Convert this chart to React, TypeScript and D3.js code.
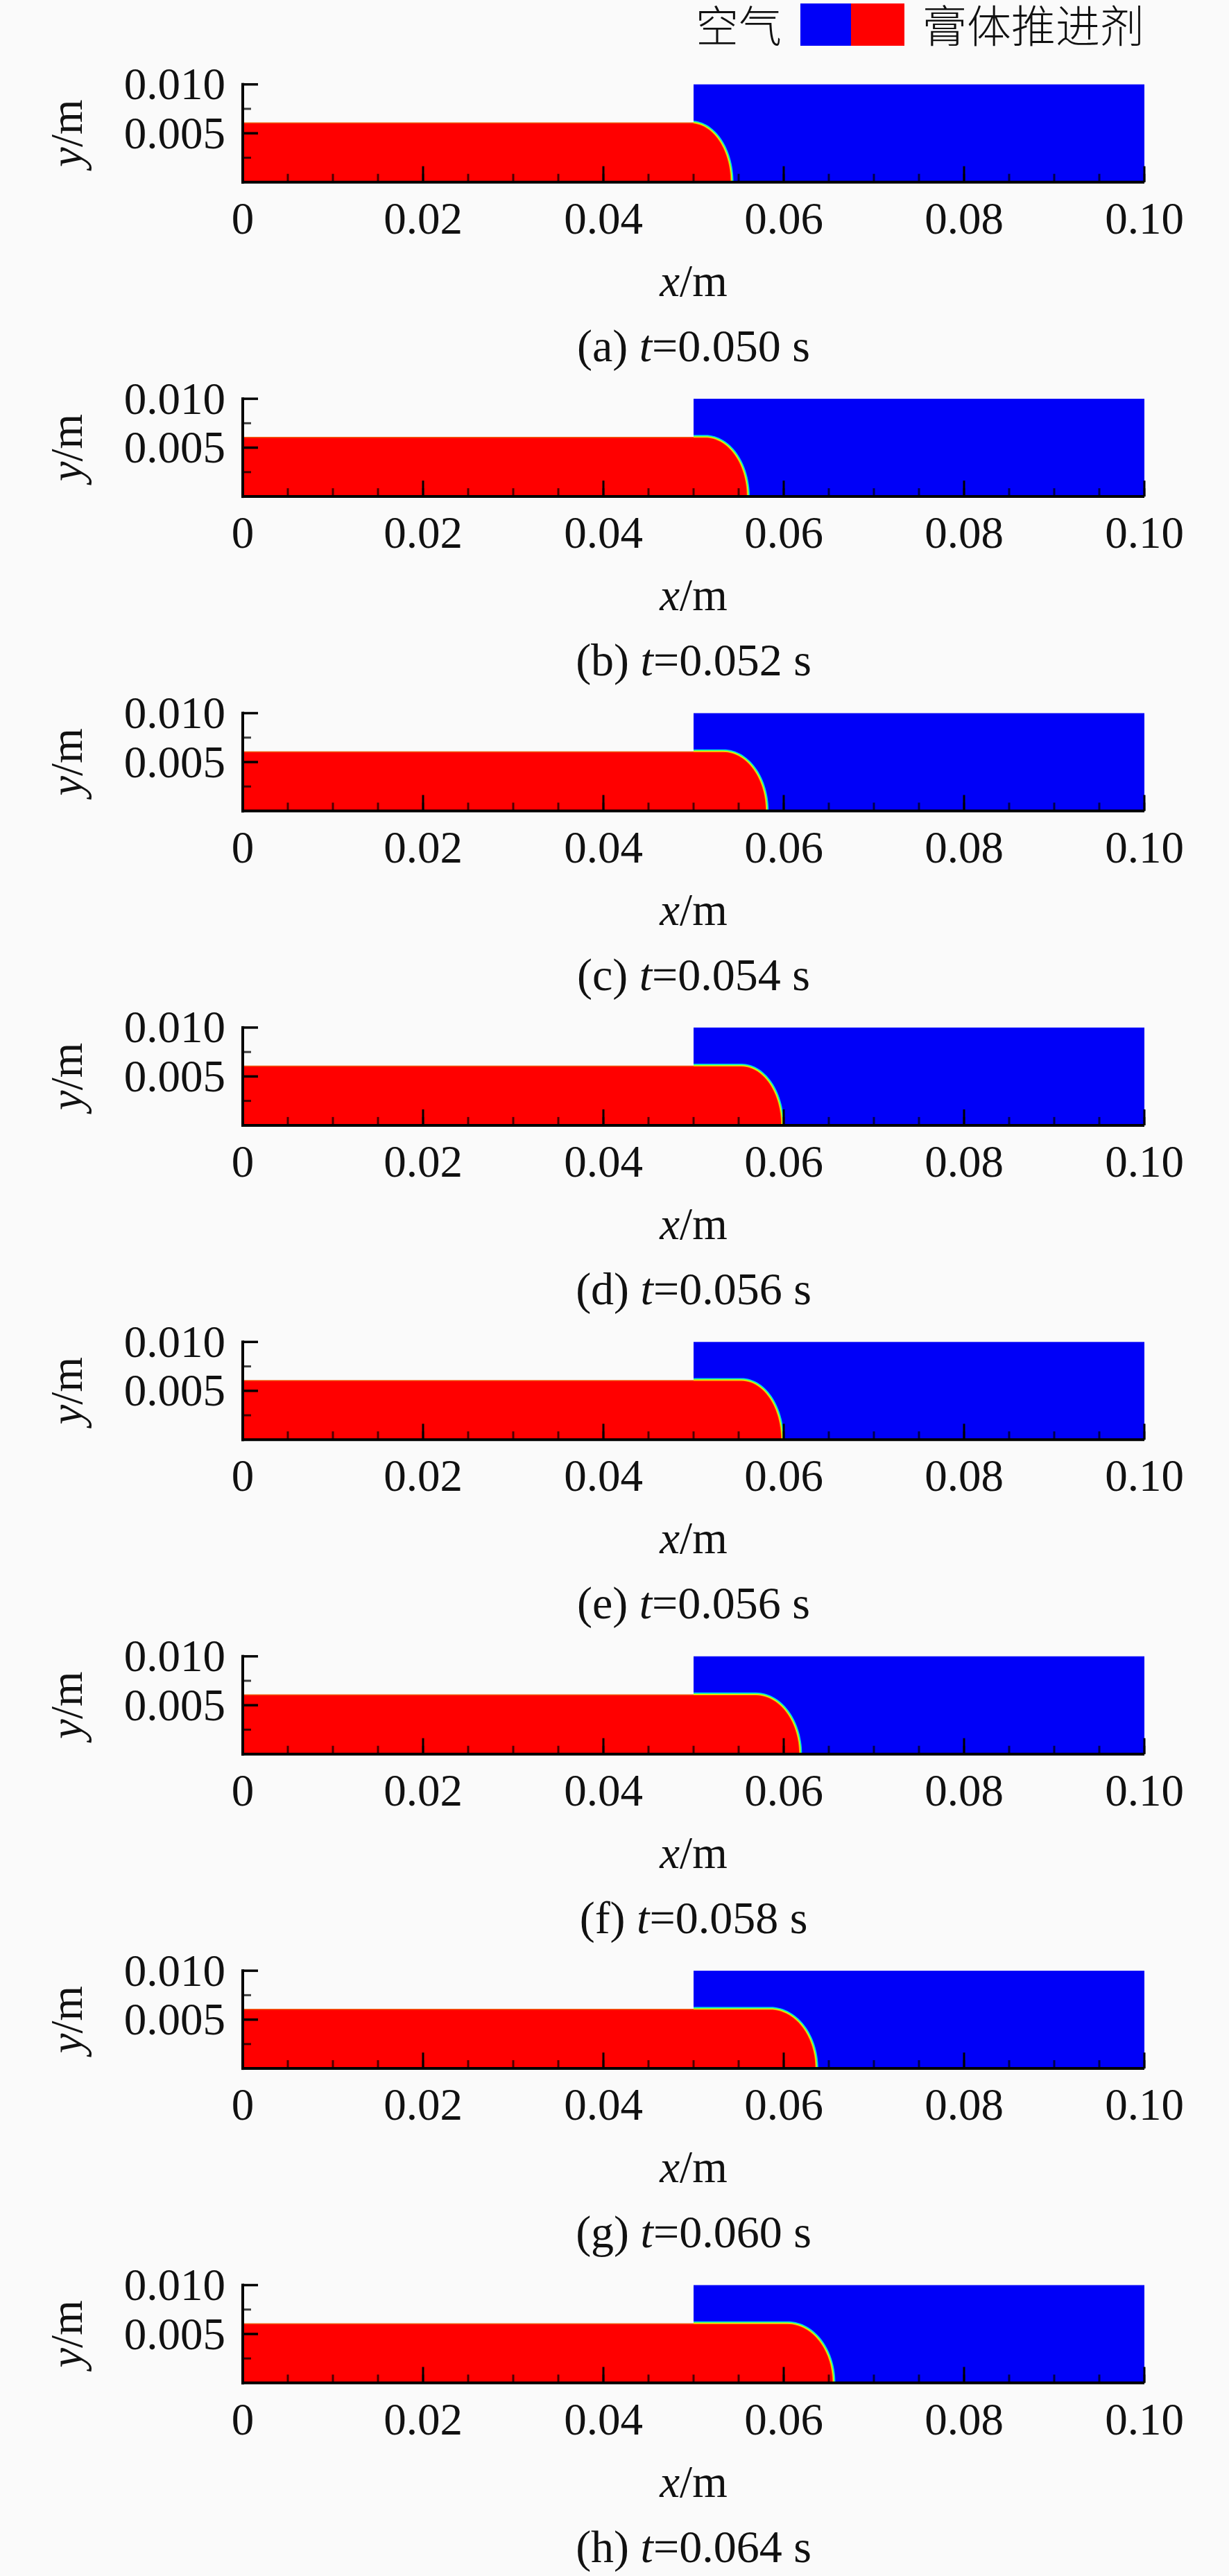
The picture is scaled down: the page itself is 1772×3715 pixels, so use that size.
import React from "react";
import * as d3 from "d3";

// ---- data ----
const panelLetters = ["a", "b", "c", "d", "e", "f", "g", "h"];
const panelTimes = ["0.050", "0.052", "0.054", "0.056", "0.056", "0.058", "0.060", "0.064"];
// x position (m) of the propellant front on the axis (y = 0)
const frontX = [0.0541, 0.0559, 0.058, 0.0597, 0.0597, 0.0617, 0.0635, 0.0654];
// x position (m) where the rounded head of the propellant starts (at the top)
const capStartX = [0.0497, 0.0513, 0.0533, 0.0553, 0.0553, 0.0569, 0.0585, 0.0604];
const propellantHeight = 0.006; // m
const chamberStartX = 0.05; // air domain starts here
const domainX = [0, 0.1];
const domainY = [0, 0.01];
const xTickMajor = [0, 0.02, 0.04, 0.06, 0.08, 0.1];
const xTickLabels = ["0", "0.02", "0.04", "0.06", "0.08", "0.10"];
const xTickMinor = d3.range(0, 0.1001, 0.005);
const yTickMajor = [0.005, 0.01];
const yTickLabels = ["0.005", "0.010"];
const yTickMinor = [0.0025, 0.0075];
const legendLabels = ["空气", "膏体推进剂"];

const W = 1772;
const H = 3715;
const plotLeft = 350;
const plotRight = 1650;
const firstBottom = 262.7;
const plotHeight = 141;
const panelStep = 453.4;

const serif = "'Liberation Serif', 'Times New Roman', Times, serif";
const cjk = "'Noto Sans CJK SC', 'Noto Sans', sans-serif";
const RED = "#ff0000";
const BLUE = "#0000f8";

const x = d3.scaleLinear().domain(domainX).range([plotLeft, plotRight]);

function Panel({ i }: { i: number }) {
  const bottom = firstBottom + panelStep * i;
  const y = d3.scaleLinear().domain(domainY).range([bottom, bottom - plotHeight]);
  const cs = capStartX[i];
  const fr = frontX[i];
  const thetas = d3.range(0, 91, 3).map((d) => (d * Math.PI) / 180);
  // ellipse quarter from top (theta=90) to bottom front (theta=0)
  const arcPts: [number, number][] = thetas
    .slice()
    .reverse()
    .map((t) => [cs + (fr - cs) * Math.cos(t), propellantHeight * Math.sin(t)]);
  const line = d3
    .line<[number, number]>()
    .x((d) => x(d[0]))
    .y((d) => y(d[1]));
  const redPts: [number, number][] = [
    [0, 0],
    [0, propellantHeight],
    ...arcPts,
    [fr, 0],
  ];
  const redPath = line(redPts) + "Z";
  const boundary = line([[chamberStartX, propellantHeight], ...arcPts]) as string;
  const topLeft = line([
    [0, propellantHeight],
    [chamberStartX, propellantHeight],
  ]) as string;
  const clipId = `clip-${i}`;
  const bands = [
    { w: 8.5, c: "#00c8ff" },
    { w: 6.2, c: "#30ff70" },
    { w: 4.2, c: "#f0ff00" },
    { w: 2.2, c: "#ff8000" },
  ];
  const captionY = bottom + 258;
  return (
    <g>
      <defs>
        <clipPath id={clipId}>
          <rect
            x={x(chamberStartX)}
            y={y(0.01)}
            width={x(0.1) - x(chamberStartX)}
            height={y(0) - y(0.01)}
          />
        </clipPath>
      </defs>
      <rect
        x={x(chamberStartX)}
        y={y(0.01)}
        width={x(0.1) - x(chamberStartX)}
        height={y(0) - y(0.01)}
        fill={BLUE}
      />
      <g clipPath={`url(#${clipId})`}>
        {bands.map((b, k) => (
          <path key={k} d={boundary} fill="none" stroke={b.c} strokeWidth={b.w} />
        ))}
      </g>
      <path d={topLeft} fill="none" stroke="#f05a10" strokeWidth={3} />
      <path d={redPath} fill={RED} />
      {/* ticks */}
      {xTickMinor.map((t, k) => (
        <line
          key={"xm" + k}
          x1={x(t)}
          x2={x(t)}
          y1={y(0)}
          y2={y(0) - 12}
          stroke="#000"
          strokeOpacity={0.7}
          strokeWidth={3}
        />
      ))}
      {xTickMajor.map((t, k) => (
        <line
          key={"xM" + k}
          x1={x(t)}
          x2={x(t)}
          y1={y(0)}
          y2={y(0) - 23}
          stroke="#000"
          strokeWidth={3}
        />
      ))}
      {yTickMinor.map((t, k) => (
        <line
          key={"ym" + k}
          x1={x(0)}
          x2={x(0) + 12}
          y1={y(t)}
          y2={y(t)}
          stroke="#000"
          strokeOpacity={0.75}
          strokeWidth={3}
        />
      ))}
      {yTickMajor.map((t, k) => (
        <line
          key={"yM" + k}
          x1={x(0)}
          x2={x(0) + 22}
          y1={y(t)}
          y2={y(t)}
          stroke="#000"
          strokeWidth={3.5}
        />
      ))}
      {/* axis lines */}
      <line x1={x(0) - 2} x2={x(0.1)} y1={y(0)} y2={y(0)} stroke="#000" strokeWidth={4} />
      <line x1={x(0)} x2={x(0)} y1={y(0) + 2} y2={y(0.01) - 2} stroke="#000" strokeWidth={4} />
      {/* tick labels */}
      {xTickMajor.map((t, k) => (
        <text
          key={"xl" + k}
          x={x(t)}
          y={y(0) + 74}
          textAnchor="middle"
          fontFamily={serif}
          fontSize={65}
          fill="#111"
        >
          {xTickLabels[k]}
        </text>
      ))}
      {yTickMajor.map((t, k) => (
        <text
          key={"yl" + k}
          x={325}
          y={y(t) + 21.5}
          textAnchor="end"
          fontFamily={serif}
          fontSize={65}
          fill="#111"
        >
          {yTickLabels[k]}
        </text>
      ))}
      {/* axis titles */}
      <text
        transform={`translate(118, ${(y(0) + y(0.01)) / 2}) rotate(-90)`}
        textAnchor="middle"
        fontFamily={serif}
        fontSize={65}
        fill="#111"
      >
        <tspan fontStyle="italic">y</tspan>/m
      </text>
      <text
        x={(x(0) + x(0.1)) / 2}
        y={y(0) + 164}
        textAnchor="middle"
        fontFamily={serif}
        fontSize={65}
        fill="#111"
      >
        <tspan fontStyle="italic">x</tspan>/m
      </text>
      <text
        x={(x(0) + x(0.1)) / 2}
        y={captionY}
        textAnchor="middle"
        fontFamily={serif}
        fontSize={66}
        fill="#111"
      >
        ({panelLetters[i]}) <tspan fontStyle="italic">t</tspan>={panelTimes[i]} s
      </text>
    </g>
  );
}

export default function App() {
  return (
    <div style={{ position: "absolute", left: 0, top: 0, width: W, height: H }}>
      <svg width={W} height={H} viewBox={`0 0 ${W} ${H}`} style={{ display: "block" }}>
        <rect x={0} y={0} width={W} height={H} fill="#fafafa" />
        {/* legend */}
        <text x={1127} y={61} textAnchor="end" fontFamily={cjk} fontSize={62} fontWeight={300} fill="#111">
          {legendLabels[0]}
        </text>
        <rect x={1154} y={5} width={73} height={61} fill={BLUE} />
        <rect x={1227} y={5} width={77} height={61} fill={RED} />
        <text x={1330} y={61} textAnchor="start" fontFamily={cjk} fontSize={64} fontWeight={300} fill="#111">
          {legendLabels[1]}
        </text>
        {panelLetters.map((_, i) => (
          <Panel key={i} i={i} />
        ))}
      </svg>
    </div>
  );
}
